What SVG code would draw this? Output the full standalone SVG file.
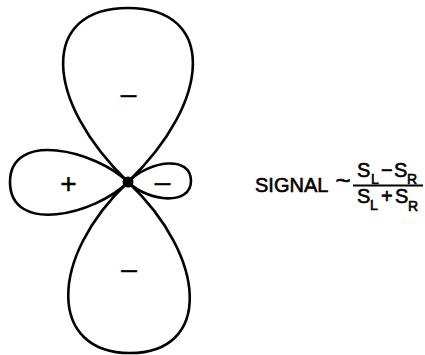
<svg xmlns="http://www.w3.org/2000/svg" width="425" height="355" viewBox="0 0 425 355">
<style>
.lobe{fill:none;stroke:#000;stroke-width:2.6;stroke-linejoin:round}
.sign{font-family:"Liberation Sans",Arial,sans-serif;font-size:28px;fill:#000;stroke:#000;stroke-width:0.5;text-anchor:middle}
.f{font-family:"Liberation Sans",Arial,sans-serif;fill:#000;stroke:#000;stroke-width:0.6}
.big{font-size:20px}
.sub{font-size:14px}
</style>
<rect width="425" height="355" fill="#fff"/>
<g id="lobe-top">
<path class="lobe" d="M128,182 C43,100 40,8 128,8 C216,8 213,100 128,182 Z"/>
<text class="sign" x="128.5" y="102.5">–</text>
</g>
<g id="lobe-bottom">
<path class="lobe" d="M128,182 C48,258 48,353 130,353 C212,353 208,258 128,182 Z"/>
<text class="sign" x="129" y="277.5">–</text>
</g>
<g id="lobe-left">
<path class="lobe" d="M128,182 C95,150 10,130 10,182 C10,235 95,215 128,182 Z"/>
<text class="sign" x="68.5" y="193" stroke-width="0.2">+</text>
</g>
<g id="lobe-right">
<path class="lobe" d="M128,182 C150,160 191,155 191,181 C191,205 150,203 128,182 Z"/>
<text class="sign" x="162.5" y="190.5">–</text>
</g>
<g id="origin">
<circle cx="128" cy="182" r="5.5" fill="#000"/>
</g>
<g id="formula">
<text class="f big" x="255" y="192">SIGNAL</text>
<text class="f" x="343" y="189" font-size="26" text-anchor="middle">~</text>
<line x1="353" y1="185.5" x2="423" y2="185.5" stroke="#000" stroke-width="2"/>
<text class="f big" x="357" y="177">S</text>
<text class="f sub" x="371" y="184">L</text>
<text class="f big" x="381" y="177">−</text>
<text class="f big" x="394" y="177">S</text>
<text class="f sub" x="407" y="184">R</text>
<text class="f big" x="357" y="203">S</text>
<text class="f sub" x="370" y="210">L</text>
<text class="f big" x="381" y="203">+</text>
<text class="f big" x="395" y="203">S</text>
<text class="f sub" x="408" y="211">R</text>
</g>
</svg>
